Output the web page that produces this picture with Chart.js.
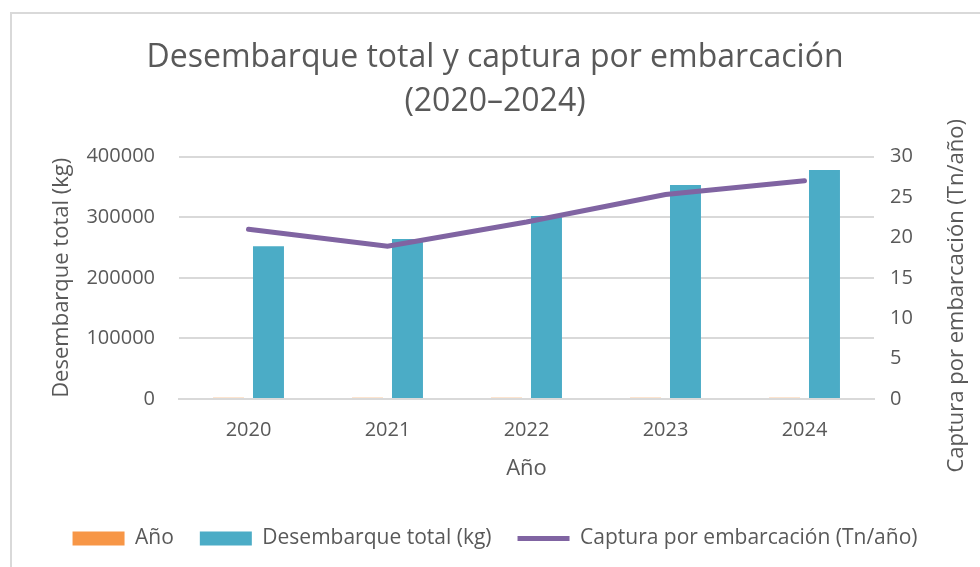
<!DOCTYPE html>
<html>
<head>
<meta charset="utf-8">
<script src="https://cdn.jsdelivr.net/npm/chart.js@4"></script>
<style>
  html, body { margin: 0; padding: 0; background: #fff; }
  #wrap { position: relative; width: 980px; height: 567px; }
  #marco { position: absolute; left: 10px; top: 12px; width: 980px; height: 600px; border: 2px solid #d9d9d9; box-sizing: border-box; }
</style>
</head>
<body>
<div id="wrap">
  <div id="marco"></div>
  <canvas id="desembarqueChart" width="980" height="567"></canvas>
</div>
<script>
// Datos
const anios = ['2020', '2021', '2022', '2023', '2024'];
const serieAnio = [2020, 2021, 2022, 2023, 2024];
const desembarqueTotal = [252000, 264000, 302000, 353000, 378000];  // kg
const capturaPorEmbarcacion = [21.0, 18.9, 21.9, 25.3, 27.0];     // Tn/año
const tituloEjeDerecho = 'Captura por embarcación (Tn/año)';

const gris = '#595959';
const fuente = "'Open Sans', 'Noto Sans', sans-serif";
Chart.defaults.font.family = fuente;
Chart.defaults.color = gris;

// título del eje secundario, girado como en Excel (de abajo hacia arriba)
const tituloDerecho = {
    id: 'tituloDerecho',
    afterDraw(chart) {
        const c = chart.ctx;
        const area = chart.chartArea;
        c.save();
        c.translate(957, (area.top + area.bottom) / 2 + 18);
        c.rotate(-Math.PI / 2);
        c.fillStyle = gris;
        c.font = '22px ' + fuente;
        c.textAlign = 'center';
        c.textBaseline = 'middle';
        c.fillText(tituloEjeDerecho, 0, 0);
        c.restore();
    }
};

const ctx = document.getElementById('desembarqueChart').getContext('2d');
const desembarqueChart = new Chart(ctx, {
    type: 'bar',
    data: {
        labels: anios,
        datasets: [{
            label: 'Año',
            data: serieAnio,
            backgroundColor: '#F79646',
            yAxisID: 'y',
            pointStyle: 'rect',
            barPercentage: 0.775,
            categoryPercentage: 0.575,
            order: 2
        }, {
            label: 'Desembarque total (kg)',
            data: desembarqueTotal,
            backgroundColor: '#4BACC6',
            yAxisID: 'y',
            pointStyle: 'rect',
            barPercentage: 0.775,
            categoryPercentage: 0.575,
            order: 2
        }, {
            type: 'line',
            label: tituloEjeDerecho,
            data: capturaPorEmbarcacion,
            borderColor: '#8064A2',
            backgroundColor: '#8064A2',
            borderWidth: 5,
            pointRadius: 0,
            pointStyle: 'line',
            borderCapStyle: 'round',
            yAxisID: 'y2',
            order: 1
        }]
    },
    options: {
        responsive: false,
        animation: false,
        layout: { padding: { top: 35, left: 10, right: 0, bottom: 8 } },
        plugins: {
            title: {
                display: true,
                text: ['Desembarque total y captura por embarcación', '(2020–2024)'],
                color: gris,
                font: { size: 32, weight: 'normal', lineHeight: 1.4 },
                padding: { top: 0, bottom: 32 }
            },
            legend: {
                position: 'bottom',
                labels: {
                    usePointStyle: true,
                    pointStyleWidth: 52,
                    boxHeight: 14,
                    padding: 26,
                    color: gris,
                    font: { size: 21 },
                    sort: (a, b) => a.datasetIndex - b.datasetIndex
                }
            },
            tooltip: { enabled: false }
        },
        scales: {
            x: {
                grid: { display: false, drawTicks: false },
                border: { color: '#d9d9d9', width: 2 },
                ticks: { padding: 19, font: { size: 20 }, color: gris },
                title: { display: true, text: 'Año', color: gris, font: { size: 22 }, padding: { top: 6, bottom: 20 } },
                afterFit: axis => { axis.height = 103; }
            },
            y: {
                position: 'left',
                min: 0,
                max: 400000,
                ticks: {
                    stepSize: 100000,
                    padding: 24,
                    font: { size: 20 },
                    color: gris,
                    callback: v => String(v)
                },
                grid: { color: '#d9d9d9', lineWidth: 2, drawTicks: false },
                border: { display: false },
                title: { display: true, text: 'Desembarque total (kg)', color: gris, font: { size: 22 }, padding: { top: 39, bottom: 0 } },
                afterFit: axis => { axis.width = 169; }
            },
            y2: {
                position: 'right',
                min: 0,
                max: 30,
                ticks: { stepSize: 5, padding: 16, font: { size: 20 }, color: gris },
                grid: { display: false, drawTicks: false },
                border: { display: false },
                afterFit: axis => { axis.width = 106; }
            }
        }
    },
    plugins: [tituloDerecho]
});
</script>
</body>
</html>
